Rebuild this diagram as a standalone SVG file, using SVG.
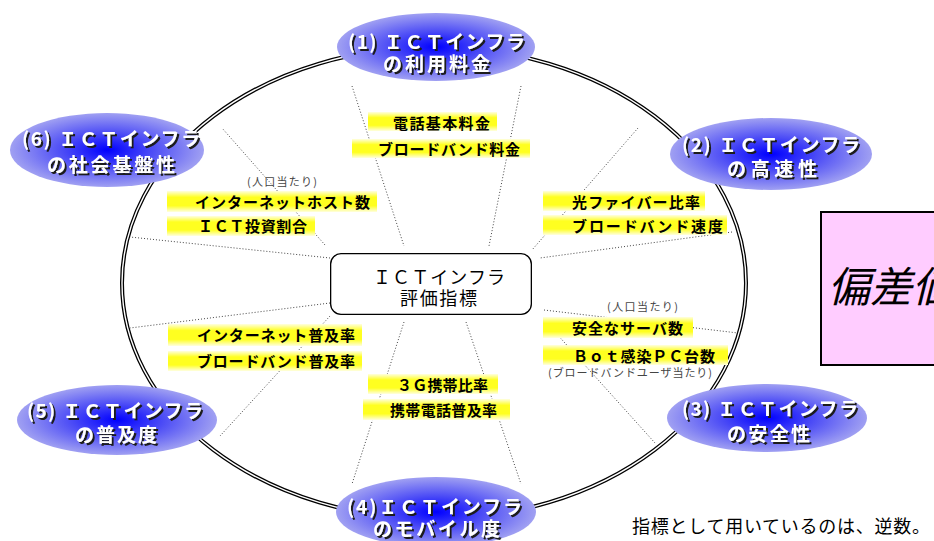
<svg xmlns="http://www.w3.org/2000/svg" width="934" height="541" viewBox="0 0 934 541">
<defs>
<radialGradient id="ng" cx="50%" cy="50%" r="50%">
<stop offset="0" stop-color="#0000ff"/>
<stop offset="0.45" stop-color="#4a4af6"/>
<stop offset="1" stop-color="#a0a0f2"/>
</radialGradient>
<linearGradient id="yg" x1="0" y1="0" x2="0" y2="1">
<stop offset="0" stop-color="#ffffe0"/>
<stop offset="0.3" stop-color="#ffff20"/>
<stop offset="0.7" stop-color="#ffff20"/>
<stop offset="1" stop-color="#ffffe0"/>
</linearGradient>
<filter id="ds" x="-10%" y="-30%" width="120%" height="160%">
<feDropShadow dx="2" dy="2" stdDeviation="0.4" flood-color="#1a1a1a" flood-opacity="1"/>
</filter>
<style>
.nt{font-family:"Noto Sans CJK JP","Noto Sans",sans-serif;font-size:19px;font-weight:bold;fill:#fff;filter:url(#ds);}
.lb{font-family:"Noto Sans CJK JP","Noto Sans",sans-serif;font-size:15px;font-weight:bold;fill:#000;}
.sm{font-family:"Noto Sans CJK JP","Noto Sans",sans-serif;font-size:11px;fill:#444;}
.bar{fill:url(#yg);}
.sp{stroke:#444;stroke-width:1;stroke-dasharray:1 2;fill:none;}
.ne{fill:url(#ng);}
</style>
</defs>
<rect width="934" height="541" fill="#fff"/>
<g id="connectors">
<ellipse cx="434" cy="283" rx="312" ry="236" fill="none" stroke="#000" stroke-width="4"/>
<ellipse cx="434" cy="283" rx="312" ry="236" fill="none" stroke="#fff" stroke-width="1.4"/>
<line class="sp" x1="352" y1="86" x2="404" y2="246"/>
<line class="sp" x1="521" y1="86" x2="489" y2="246"/>
<line class="sp" x1="638" y1="128" x2="532" y2="250"/>
<line class="sp" x1="732" y1="232" x2="540" y2="258"/>
<line class="sp" x1="544" y1="310" x2="738" y2="333"/>
<line class="sp" x1="546" y1="322" x2="655" y2="443"/>
<line class="sp" x1="466" y1="322" x2="521" y2="484"/>
<line class="sp" x1="404" y1="322" x2="352" y2="484"/>
<line class="sp" x1="330" y1="316" x2="220" y2="436"/>
<line class="sp" x1="330" y1="303" x2="130" y2="328"/>
<line class="sp" x1="330" y1="258" x2="130" y2="237"/>
<line class="sp" x1="325" y1="245" x2="222" y2="128"/>
</g>
<g id="center">
<rect x="332" y="255" width="198" height="58" rx="9" fill="#fff" stroke="#000" stroke-width="4"/>
<rect x="332" y="255" width="198" height="58" rx="9" fill="#fff" stroke="#fff" stroke-width="1.4"/>
<text x="373" y="284" font-family="'Noto Sans CJK JP',sans-serif" font-size="18" textLength="132" lengthAdjust="spacing">ＩＣＴインフラ</text>
<text x="400" y="305" font-family="'Noto Sans CJK JP',sans-serif" font-size="18" textLength="77" lengthAdjust="spacing">評価指標</text>
</g>
<g id="labels">
<rect class="bar" x="368" y="112" width="129" height="19"/>
<text class="lb" x="393" y="129" textLength="97" lengthAdjust="spacing">電話基本料金</text>
<rect class="bar" x="352" y="139" width="178" height="19"/>
<text class="lb" x="378" y="155" textLength="142" lengthAdjust="spacing">ブロードバンド料金</text>
<text class="sm" x="247" y="186" textLength="70" lengthAdjust="spacing">(人口当たり)</text>
<rect class="bar" x="167" y="191" width="210" height="21"/>
<text class="lb" x="195" y="208" textLength="175" lengthAdjust="spacing">インターネットホスト数</text>
<rect class="bar" x="167" y="216" width="148" height="20"/>
<text class="lb" x="198" y="232" textLength="109" lengthAdjust="spacing">ＩＣＴ投資割合</text>
<rect class="bar" x="543" y="191" width="162" height="20"/>
<text class="lb" x="572" y="208" textLength="128" lengthAdjust="spacing">光ファイバー比率</text>
<rect class="bar" x="543" y="215" width="184" height="20"/>
<text class="lb" x="572" y="232" textLength="151" lengthAdjust="spacing">ブロードバンド速度</text>
<text class="sm" x="607" y="311" textLength="71" lengthAdjust="spacing">(人口当たり)</text>
<rect class="bar" x="543" y="317" width="150" height="21"/>
<text class="lb" x="572" y="334" textLength="111" lengthAdjust="spacing">安全なサーバ数</text>
<rect class="bar" x="543" y="345" width="185" height="20"/>
<text class="lb" x="573" y="362" textLength="142" lengthAdjust="spacing">Ｂｏｔ感染ＰＣ台数</text>
<text class="sm" x="548" y="377" textLength="164" lengthAdjust="spacing">(ブロードバンドユーザ当たり)</text>
<rect class="bar" x="168" y="324" width="194" height="22"/>
<text class="lb" x="197" y="341" textLength="158" lengthAdjust="spacing">インターネット普及率</text>
<rect class="bar" x="168" y="351" width="194" height="20"/>
<text class="lb" x="197" y="367" textLength="158" lengthAdjust="spacing">ブロードバンド普及率</text>
<rect class="bar" x="368" y="374" width="130" height="20"/>
<text class="lb" x="397" y="391" textLength="91" lengthAdjust="spacing">３Ｇ携帯比率</text>
<rect class="bar" x="363" y="399" width="147" height="21"/>
<text class="lb" x="390" y="416" textLength="107" lengthAdjust="spacing">携帯電話普及率</text>
</g>
<g id="node1">
<ellipse class="ne" cx="436" cy="47" rx="99" ry="34"/>
<text class="nt" x="348" y="49" textLength="177" lengthAdjust="spacing">(1) ＩＣＴインフラ</text>
<text class="nt" x="383" y="71" textLength="107" lengthAdjust="spacing">の利用料金</text>
</g>
<g id="node2">
<ellipse class="ne" cx="771" cy="154" rx="101" ry="36"/>
<text class="nt" x="682" y="152" textLength="178" lengthAdjust="spacing">(2) ＩＣＴインフラ</text>
<text class="nt" x="727" y="176" textLength="90" lengthAdjust="spacing">の高速性</text>
</g>
<g id="node3">
<ellipse class="ne" cx="767" cy="418" rx="100" ry="34"/>
<text class="nt" x="682" y="416" textLength="176" lengthAdjust="spacing">(3) ＩＣＴインフラ</text>
<text class="nt" x="727" y="441" textLength="83" lengthAdjust="spacing">の安全性</text>
</g>
<g id="node4">
<ellipse class="ne" cx="436" cy="512" rx="100" ry="35"/>
<text class="nt" x="347" y="514" textLength="175" lengthAdjust="spacing">(4)ＩＣＴインフラ</text>
<text class="nt" x="373" y="536" textLength="127" lengthAdjust="spacing">のモバイル度</text>
</g>
<g id="node5">
<ellipse class="ne" cx="117" cy="420" rx="100" ry="35"/>
<text class="nt" x="27" y="418" textLength="176" lengthAdjust="spacing">(5) ＩＣＴインフラ</text>
<text class="nt" x="75" y="442" textLength="82" lengthAdjust="spacing">の普及度</text>
</g>
<g id="node6">
<ellipse class="ne" cx="107" cy="150" rx="97" ry="37"/>
<text class="nt" x="22" y="146" textLength="178" lengthAdjust="spacing">(6) ＩＣＴインフラ</text>
<text class="nt" x="47" y="172" textLength="128" lengthAdjust="spacing">の社会基盤性</text>
</g>
<g id="deviation">
<rect x="821" y="212" width="130" height="153" fill="#ffccff" stroke="#000" stroke-width="2"/>
<text x="828" y="302" font-family="'Noto Sans CJK JP',sans-serif" font-size="42" font-style="italic" fill="#000">偏差値</text>
</g>
<g id="note">
<text x="632" y="533" font-family="'Noto Sans CJK JP',sans-serif" font-size="18" fill="#000" textLength="298" lengthAdjust="spacing">指標として用いているのは、逆数。</text>
</g>
</svg>
